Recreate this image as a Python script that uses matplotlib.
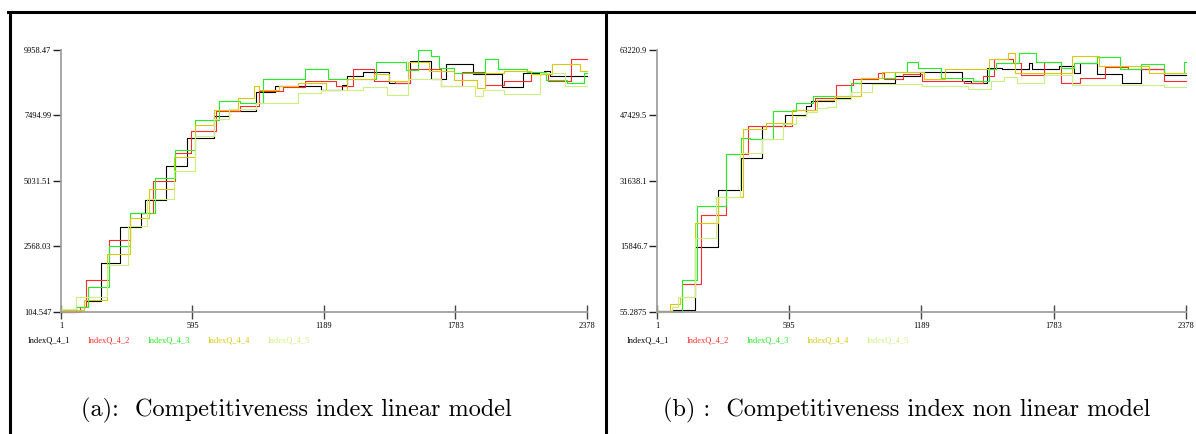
import numpy as np
import matplotlib.pyplot as plt
from matplotlib.lines import Line2D

# ---- data (step series: start index, value) ----
names = ['IndexQ_4_1', 'IndexQ_4_2', 'IndexQ_4_3', 'IndexQ_4_4', 'IndexQ_4_5']
colors = ['#000000', '#ff2a2a', '#22ee22', '#d8c810', '#ccf080']

x_ticks = [1, 595, 1189, 1783, 2378]
lin_yticks = [104.547, 2568.03, 5031.51, 7494.99, 9958.47]
nl_yticks = [55.2875, 15846.7, 31638.1, 47429.5, 63220.9]

# (a) linear model
lin_t1 = [1, 70, 113, 182, 268, 363, 381, 475, 570, 691, 760, 881, 967, 1079, 1174, 1269,
          1295, 1364, 1485, 1579, 1674, 1743, 1864, 1993, 2088, 2183, 2209]
lin_v1 = [104, 293, 520, 1930, 3310, 3840, 4320, 5600, 6650, 7470, 7650, 8390, 8600, 8620, 8470,
          8660, 8980, 9130, 8720, 9540, 8850, 9420, 9040, 8570, 9100, 9160, 8980]
lin_t2 = [1, 87, 113, 217, 311, 415, 518, 588, 700, 812, 898, 1002, 1105, 1243, 1321, 1416,
          1510, 1579, 1717, 1812, 1916, 2002, 2123, 2200, 2304]
lin_v2 = [104, 290, 1325, 2810, 3840, 5050, 6080, 6900, 7650, 7870, 8410, 8570, 8790, 8620, 9250,
          8790, 8720, 9230, 8600, 9130, 8660, 8790, 9040, 8790, 9630]
lin_t3 = [1, 70, 122, 217, 311, 424, 518, 605, 717, 812, 915, 1105, 1208, 1424, 1562, 1614,
          1674, 1709, 1778, 1916, 1976, 2105, 2192, 2286, 2364]
lin_v3 = [167, 290, 1050, 2580, 3840, 5140, 6210, 7320, 8030, 7970, 8880, 9230, 8850, 9520, 9200,
          9960, 9730, 9290, 9100, 9610, 9230, 9130, 8830, 8730, 9100]
lin_t4 = [1, 104, 208, 311, 398, 510, 605, 691, 803, 872, 898, 984, 1071, 1200, 1295, 1416,
          1485, 1571, 1666, 1778, 1881, 1916, 2002, 2123, 2218, 2347]
lin_v4 = [192, 570, 2280, 3630, 4720, 5930, 7150, 7720, 8160, 8620, 8470, 8600, 8720, 8470, 8880,
          9040, 8790, 9500, 9170, 8830, 8540, 9100, 9170, 9040, 9420, 9170]
lin_t5 = [1, 70, 208, 303, 389, 510, 605, 691, 760, 881, 1071, 1174, 1364, 1476, 1571, 1717,
          1872, 1907, 2002, 2166, 2278]
lin_v5 = [230, 670, 1870, 3340, 4350, 5390, 6710, 7370, 7740, 7970, 8350, 8450, 8570, 8250, 8850,
          8620, 8220, 8450, 8290, 9100, 8600]

# (b) non linear model
nl_t1 = [1, 69, 172, 275, 378, 472, 575, 669, 695, 797, 874, 1071, 1183, 1371, 1414, 1482,
         1551, 1671, 1688, 1808, 1876, 1902, 1979, 2090, 2176, 2279]
nl_v1 = [300, 620, 15620, 29500, 37160, 44830, 47650, 49830, 50880, 51680, 55310, 56930, 57900,
         55720, 55310, 58950, 58540, 60160, 58540, 59350, 57730, 60160, 57330, 55310, 58540, 57090]
nl_t2 = [1, 112, 198, 309, 412, 609, 712, 806, 883, 994, 1020, 1105, 1191, 1380, 1465, 1517,
         1602, 1636, 1739, 1816, 1902, 2013, 2116, 2279]
nl_v2 = [300, 6750, 23450, 38210, 44830, 48860, 51680, 54670, 56280, 57740, 56120, 57330, 55720,
         55150, 56930, 61120, 60160, 57090, 60310, 55150, 56530, 59180, 58540, 55720]
nl_t3 = [1, 112, 181, 309, 378, 421, 523, 626, 703, 797, 874, 917, 1071, 1123, 1174, 1277,
         1422, 1491, 1525, 1628, 1705, 1816, 1876, 1979, 2082, 2176, 2279, 2369]
nl_v3 = [55, 7720, 25630, 38210, 42000, 41760, 48620, 50470, 52090, 52250, 55310, 56530, 57900,
         60310, 58950, 56530, 55720, 58540, 60160, 62410, 60310, 58950, 59990, 61520, 58700,
         59750, 57740, 60310]
nl_t4 = [1, 61, 104, 172, 275, 386, 489, 609, 720, 797, 917, 1011, 1200, 1294, 1491, 1577,
         1611, 1868, 1987, 2210]
nl_v4 = [55, 2070, 3690, 21430, 27880, 44180, 45630, 48860, 51280, 52090, 56530, 57900, 56280,
         58540, 61000, 62410, 57740, 61770, 59350, 57740]
nl_t5 = [1, 70, 95, 172, 266, 373, 472, 566, 626, 669, 720, 763, 806, 874, 968, 1191, 1397,
         1500, 1559, 1619, 1739, 1868, 2279]
nl_v5 = [55, 1270, 3690, 17800, 27880, 38370, 41760, 45390, 47410, 48220, 49270, 49510, 51440,
         53060, 54910, 54510, 53700, 55720, 56770, 55310, 57090, 54670, 54350]

lin_series = [(lin_t1, lin_v1), (lin_t2, lin_v2), (lin_t3, lin_v3), (lin_t4, lin_v4), (lin_t5, lin_v5)]
nl_series = [(nl_t1, nl_v1), (nl_t2, nl_v2), (nl_t3, nl_v3), (nl_t4, nl_v4), (nl_t5, nl_v5)]

captions = ['(a):  Competitiveness index linear model',
            '(b) :  Competitiveness index non linear model']

W, H = 1196, 434
fig = plt.figure(figsize=(W / 100, H / 100), dpi=100)

tick_font = dict(family='Liberation Serif', size=6)


def draw_panel(ax, series, yticks, left_px):
    for (t, v), c in zip(series, colors):
        t = np.append(t, x_ticks[-1])
        v = np.append(v, v[-1])
        ax.plot(t, v, drawstyle='steps-post', color=c, lw=0.8, clip_on=False)
    ax.set_xlim(x_ticks[0], x_ticks[-1])
    ax.set_ylim(yticks[0], yticks[-1])
    for s in ['top', 'right']:
        ax.spines[s].set_visible(False)
    for s in ['left', 'bottom']:
        ax.spines[s].set_color('#a0a0a0')
        ax.spines[s].set_linewidth(1.3)
    ax.set_xticks(x_ticks)
    ax.set_xticklabels([str(x) for x in x_ticks])
    ax.set_yticks(yticks)
    ax.set_yticklabels([f'{y:g}' for y in yticks])
    ax.tick_params(axis='x', direction='inout', length=10, width=1, color='#444444', pad=2)
    ax.tick_params(axis='y', direction='out', length=6, width=1, color='#222222', pad=1)
    for lab in ax.get_xticklabels() + ax.get_yticklabels():
        lab.set_fontfamily(tick_font['family'])
        lab.set_fontsize(tick_font['size'])
    # coloured series names under the axis
    for i, (n, c) in enumerate(zip(names, colors)):
        fig.text((left_px + 60 * i) / W, 1 - 341 / H, n, color=c, ha='left', va='center',
                 fontfamily=tick_font['family'], fontsize=tick_font['size'])


ax1 = fig.add_axes([61 / W, 1 - 312 / H, 526 / W, 262 / H])
draw_panel(ax1, lin_series, lin_yticks, 28)
ax2 = fig.add_axes([657 / W, 1 - 312 / H, 529 / W, 262 / H])
draw_panel(ax2, nl_series, nl_yticks, 627)

fig.text(296 / W, 1 - 410 / H, captions[0], ha='center', va='center',
         fontfamily='cmr10', fontsize=17.5)
fig.text(907 / W, 1 - 410 / H, captions[1], ha='center', va='center',
         fontfamily='cmr10', fontsize=17.5)

# table borders
lw = 2.2
fig.add_artist(Line2D([8 / W, 1], [1 - 12 / H, 1 - 12 / H], color='black', lw=lw))
fig.add_artist(Line2D([9.5 / W, 9.5 / W], [0, 1 - 12 / H], color='black', lw=lw))
fig.add_artist(Line2D([606 / W, 606 / W], [0, 1 - 12 / H], color='black', lw=lw))

fig.savefig('out.png', dpi=100)
